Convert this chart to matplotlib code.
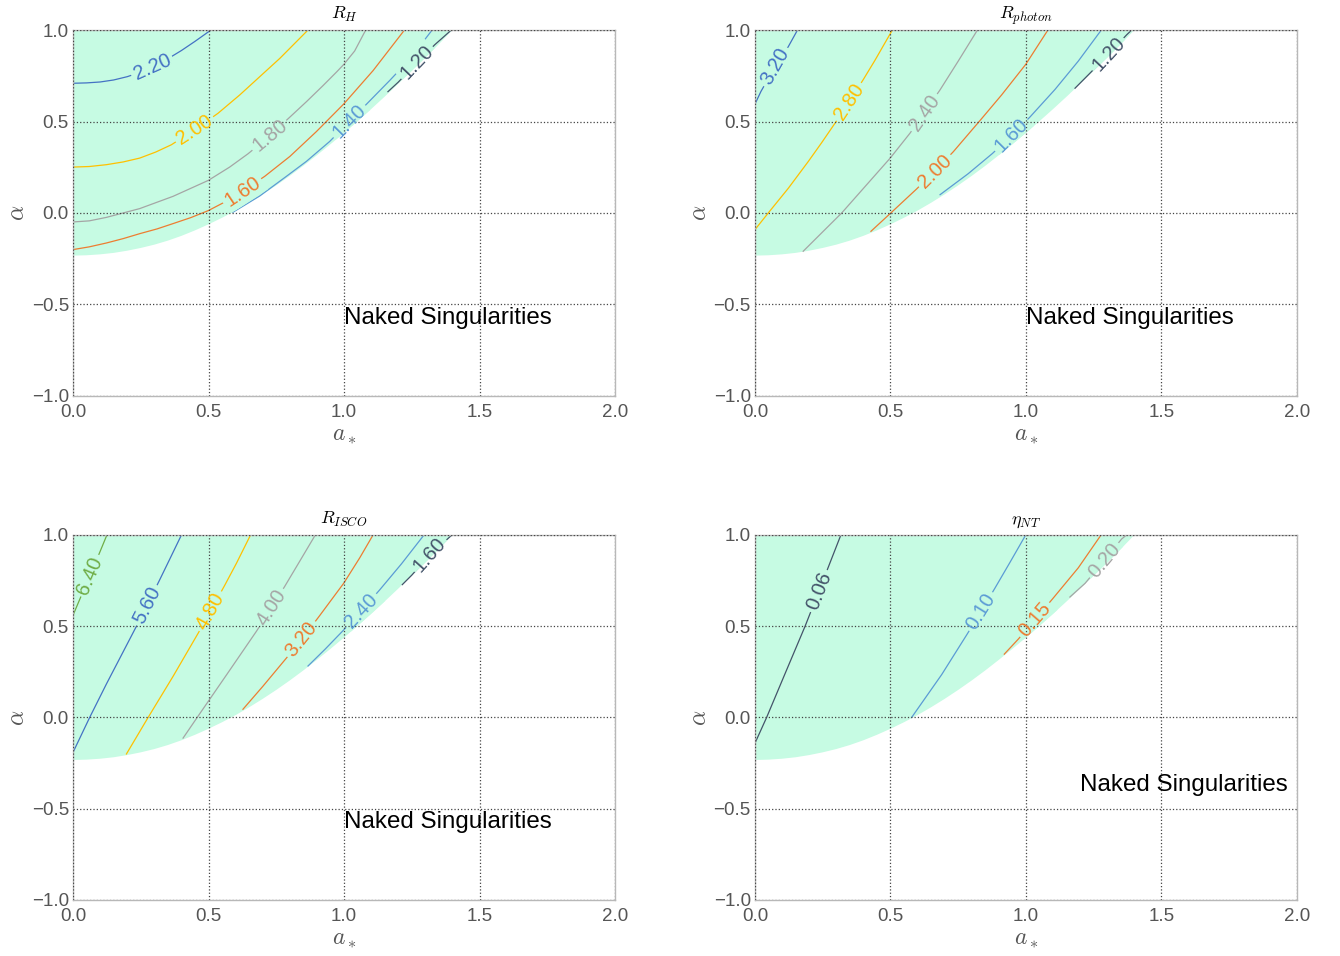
import numpy as np
import matplotlib.pyplot as plt

plt.rcParams["font.family"] = ["Liberation Sans", "DejaVu Sans"]
plt.rcParams["mathtext.fontset"] = "cm"

# edge of the shaded region (black holes)
bound_a = [0.0, 0.05, 0.1, 0.15, 0.2, 0.25, 0.3, 0.35, 0.4, 0.45, 0.5, 0.55, 0.6, 0.65,
           0.7, 0.75, 0.8, 0.85, 0.9, 0.95, 1.0, 1.05, 1.1, 1.15, 1.2, 1.25, 1.3, 1.35, 1.4]
bound_alpha = [-0.233, -0.231, -0.226, -0.218, -0.206, -0.191, -0.173, -0.151, -0.125,
               -0.095, -0.062, -0.026, 0.013, 0.056, 0.102, 0.151, 0.203, 0.258, 0.316,
               0.376, 0.438, 0.502, 0.568, 0.636, 0.706, 0.777, 0.849, 0.923, 1.0]

# R_H contours
rh_levels = ["2.20", "2.00", "1.80", "1.60", "1.40", "1.20"]
rh_a = [[0, 0.05, 0.1, 0.15, 0.2, 0.25, 0.3, 0.35, 0.4, 0.45, 0.509],
        [0, 0.06, 0.123, 0.185, 0.246, 0.305, 0.363, 0.449, 0.535, 0.615, 0.689, 0.763,
         0.867],
        [0, 0.06, 0.123, 0.246, 0.369, 0.499, 0.578, 0.646, 0.726, 0.80, 0.861, 0.923,
         0.972, 0.999, 1.039, 1.08],
        [0, 0.06, 0.123, 0.185, 0.246, 0.31, 0.369, 0.435, 0.499, 0.56, 0.615, 0.707, 0.80,
         0.898, 0.999, 1.107, 1.223],
        [0.59, 0.689, 0.787, 0.861, 0.947, 1.089, 1.169, 1.242, 1.325],
        [1.162, 1.2, 1.269, 1.335, 1.396]]
rh_alpha = [[0.709, 0.711, 0.716, 0.727, 0.745, 0.77, 0.803, 0.843, 0.888, 0.938, 1.0],
            [0.251, 0.254, 0.264, 0.279, 0.30, 0.333, 0.373, 0.455, 0.545, 0.645, 0.745,
             0.845, 1.0],
            [-0.049, -0.043, -0.024, 0.024, 0.091, 0.178, 0.251, 0.324, 0.422, 0.524, 0.608,
             0.697, 0.77, 0.812, 0.885, 1.0],
            [-0.2, -0.185, -0.164, -0.14, -0.113, -0.087, -0.058, -0.025, 0.013, 0.06, 0.109,
             0.2, 0.309, 0.445, 0.596, 0.778, 1.0],
            [0.004, 0.093, 0.2, 0.282, 0.391, 0.604, 0.725, 0.84, 1.0],
            [0.663, 0.715, 0.822, 0.92, 1.0]]
rh_label_a = [0.292, 0.449, 0.726, 0.625, 1.02, 1.269]

# R_photon contours
rp_levels = ["3.20", "2.80", "2.40", "2.00", "1.60", "1.20"]
rp_a = [[0, 0.022, 0.074, 0.123, 0.157],
        [0, 0.049, 0.123, 0.197, 0.246, 0.295, 0.347, 0.4, 0.443, 0.507],
        [0.178, 0.32, 0.499, 0.572, 0.628, 0.683, 0.75, 0.821],
        [0.428, 0.499, 0.597, 0.664, 0.732, 0.836, 0.91, 0.999, 1.081],
        [0.683, 0.787, 0.876, 0.945, 1.015, 1.107, 1.193, 1.278],
        [1.181, 1.23, 1.30, 1.371, 1.39]]
rp_alpha = [[0.595, 0.664, 0.80, 0.909, 1.0],
            [-0.091, 0.0, 0.135, 0.282, 0.384, 0.49, 0.607, 0.73, 0.835, 1.0],
            [-0.209, 0.0, 0.3, 0.436, 0.555, 0.673, 0.83, 1.0],
            [-0.1, -0.003, 0.132, 0.23, 0.335, 0.515, 0.645, 0.812, 1.0],
            [0.1, 0.215, 0.325, 0.42, 0.525, 0.675, 0.83, 1.0],
            [0.682, 0.755, 0.86, 0.973, 1.0]]
rp_label_a = [0.074, 0.347, 0.625, 0.664, 0.947, 1.304]

# R_ISCO contours
ri_levels = ["6.40", "5.60", "4.80", "4.00", "3.20", "2.40", "1.60"]
ri_a = [[0, 0.025, 0.062, 0.1, 0.125],
        [0, 0.062, 0.123, 0.185, 0.234, 0.273, 0.32, 0.357, 0.4],
        [0.197, 0.277, 0.369, 0.461, 0.507, 0.56, 0.603, 0.655],
        [0.406, 0.458, 0.568, 0.677, 0.732, 0.781, 0.836, 0.894],
        [0.627, 0.7, 0.787, 0.86, 0.91, 0.999, 1.058, 1.107],
        [0.867, 0.93, 0.999, 1.064, 1.132, 1.212, 1.295],
        [1.215, 1.25, 1.316, 1.398]]
ri_alpha = [[0.56, 0.648, 0.777, 0.91, 1.0],
            [-0.191, 0.002, 0.183, 0.36, 0.5, 0.614, 0.755, 0.868, 1.0],
            [-0.2, 0.0, 0.225, 0.46, 0.582, 0.725, 0.845, 1.0],
            [-0.113, 0.0, 0.237, 0.473, 0.6, 0.718, 0.855, 1.0],
            [0.045, 0.17, 0.325, 0.46, 0.558, 0.736, 0.875, 1.0],
            [0.282, 0.374, 0.48, 0.585, 0.7, 0.842, 1.0],
            [0.728, 0.78, 0.89, 1.0]]
ri_label_a = [0.062, 0.273, 0.507, 0.732, 0.843, 1.064, 1.316]

# eta_NT contours
eta_levels = ["0.06", "0.10", "0.15", "0.20"]
eta_a = [[0, 0.043, 0.113, 0.185, 0.252, 0.317],
         [0.578, 0.689, 0.781, 0.834, 0.886, 0.941, 0.999],
         [0.92, 0.972, 1.033, 1.101, 1.193, 1.277],
         [1.162, 1.218, 1.289, 1.353, 1.371]]
eta_alpha = [[-0.141, 0.0, 0.247, 0.5, 0.753, 1.0],
             [0.0, 0.235, 0.452, 0.58, 0.71, 0.85, 1.0],
             [0.347, 0.43, 0.535, 0.655, 0.82, 1.0],
             [0.66, 0.735, 0.861, 0.978, 1.0]]
eta_label_a = [0.236, 0.834, 1.033, 1.289]

MINT = "#c6fbe3"
# colours by rank, highest level first
rank_colors = ["#70ad47", "#4472c4", "#ffc000", "#a5a5a5", "#ed7d31", "#5b9bd5", "#44546a"]


def level_colors(n):
    return rank_colors[len(rank_colors) - n:]


def draw_panel(ax, title, levels, xs_all, ys_all, label_x, colors, note_xy):
    region = ax.fill(list(bound_a) + [0.0], list(bound_alpha) + [1.0],
                     color=MINT, lw=0, zorder=0.5)[0]
    for lev, xs, ys, lx, c in zip(levels, xs_all, ys_all, label_x, colors):
        xs = np.array(xs, dtype=float)
        ys = np.array(ys, dtype=float)
        ax.plot(xs, ys, color=c, lw=0.9, zorder=2)
        ly = np.interp(lx, xs, ys)
        j = int(np.clip(np.searchsorted(xs, lx), 1, len(xs) - 1))
        ang = np.degrees(np.arctan2(ys[j] - ys[j - 1], xs[j] - xs[j - 1]))
        kw = dict(fontsize=14.5, rotation=ang, rotation_mode="anchor",
                  ha="center", va="center", transform_rotates_text=True)
        # blank box that cuts a gap in the line, kept inside the shaded region
        gap = ax.text(lx, ly, lev, color="none", zorder=2.2, clip_on=True,
                      bbox=dict(boxstyle="square,pad=0.15", fc=MINT, ec="none"), **kw)
        gap.set_clip_path(region)
        ax.text(lx, ly, lev, color=c, zorder=3, **kw)
    ax.text(note_xy[0], note_xy[1], "Naked Singularities", fontsize=17.4,
            color="black", ha="left", va="center")
    ax.set_xlim(0, 2)
    ax.set_ylim(-1, 1)
    ax.set_xticks([0, 0.5, 1.0, 1.5, 2.0])
    ax.set_yticks([-1.0, -0.5, 0.0, 0.5, 1.0])
    ax.set_axisbelow(False)
    ax.grid(True, linestyle=":", color="#444444", lw=0.9)
    ax.tick_params(length=0, labelsize=13.5, labelcolor="#555555")
    ax.tick_params(axis="x", pad=6)
    ax.tick_params(axis="y", pad=3)
    for s in ax.spines.values():
        s.set_color("#b8b8b8")
        s.set_linewidth(1.0)
    ax.set_title(title, fontsize=13, pad=8)
    ax.set_xlabel(r"$a_*$", fontsize=17, color="#555555", labelpad=2)
    ax.set_ylabel(r"$\alpha$", fontsize=17, color="#555555", labelpad=2)


fig = plt.figure(figsize=(13.4, 9.56), dpi=100)
ax1 = fig.add_axes([0.0545, 0.5858, 0.4045, 0.3828])
ax2 = fig.add_axes([0.5634, 0.5858, 0.4045, 0.3828])
ax3 = fig.add_axes([0.0545, 0.0586, 0.4045, 0.3818])
ax4 = fig.add_axes([0.5634, 0.0586, 0.4045, 0.3818])

draw_panel(ax1, r"$R_H$", rh_levels, rh_a, rh_alpha, rh_label_a,
           level_colors(len(rh_levels)), (1.0, -0.575))
draw_panel(ax2, r"$R_{photon}$", rp_levels, rp_a, rp_alpha, rp_label_a,
           level_colors(len(rp_levels)), (1.0, -0.575))
draw_panel(ax3, r"$R_{ISCO}$", ri_levels, ri_a, ri_alpha, ri_label_a,
           level_colors(len(ri_levels)), (1.0, -0.575))
draw_panel(ax4, r"$\eta_{NT}$", eta_levels, eta_a, eta_alpha, eta_label_a,
           ["#44546a", "#5b9bd5", "#ed7d31", "#a5a5a5"], (1.2, -0.37))

fig.savefig("out.png", dpi=100)
